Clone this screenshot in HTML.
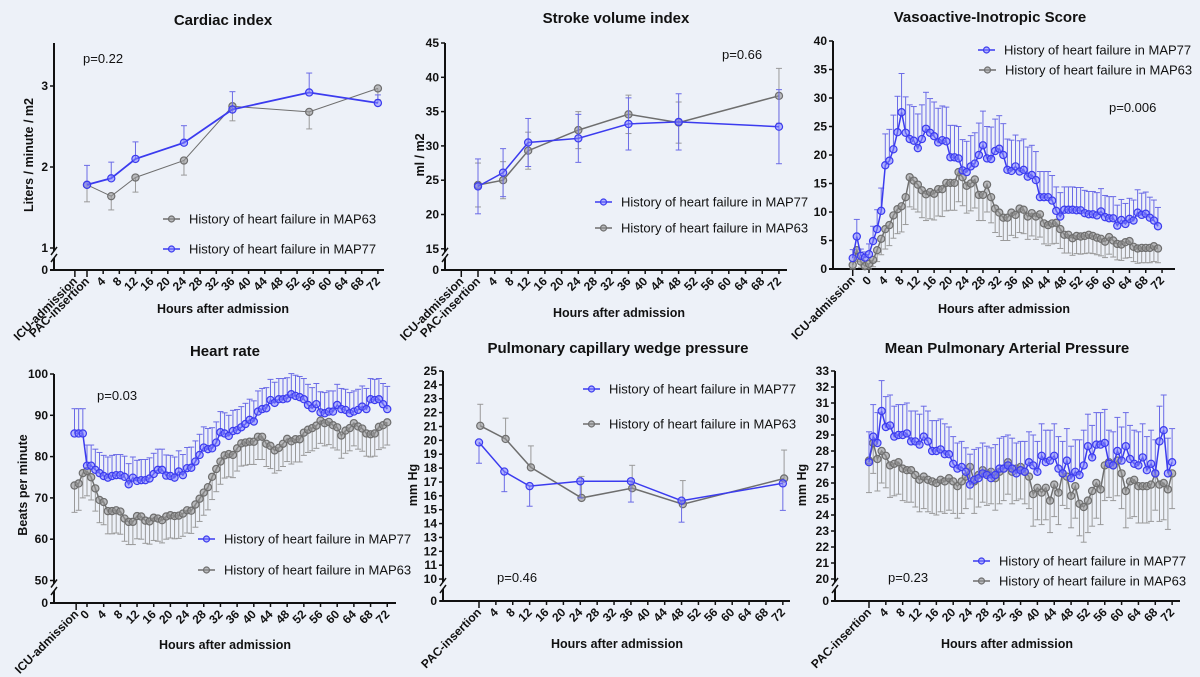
<!DOCTYPE html>
<html><head><meta charset="utf-8">
<style>
html,body{margin:0;padding:0;background:#edf1f8;}
svg{display:block;font-family:"Liberation Sans",Arial,sans-serif;}
.tl{font-size:12px;font-weight:bold;fill:#111;}
.tt{font-size:15px;font-weight:bold;fill:#111;}
.at{font-size:12.5px;font-weight:bold;fill:#111;}
.lg{font-size:13px;fill:#111;}
</style></head>
<body>
<svg id="chart" width="1200" height="677" viewBox="0 0 1200 677" xmlns="http://www.w3.org/2000/svg">
<rect width="1200" height="677" fill="#edf1f8"/>
</svg>
<script>
// ---------- Cardiac index ----------
const ciHours = [0, 6, 12, 24, 36, 55, 72];
const ciBlue = [1.78, 1.86, 2.10, 2.30, 2.71, 2.92, 2.79];
const ciBlueErr = [0.24, 0.20, 0.21, 0.21, 0.22, 0.24, 0.10];
const ciGray = [1.78, 1.64, 1.87, 2.08, 2.75, 2.68, 2.97];
const ciGrayErr = [0.21, 0.17, 0.18, 0.18, 0.18, 0.21, 0.14];
const ciYTicks = [1, 2, 3];
// ---------- Stroke volume index ----------
const sviHours = [0, 6, 12, 24, 36, 48, 72];
const sviBlue = [24.1, 26.1, 30.5, 31.1, 33.2, 33.5, 32.8];
const sviBlueErr = [4.0, 3.5, 3.5, 3.5, 3.8, 4.1, 5.4];
const sviGray = [24.3, 25.0, 29.3, 32.3, 34.6, 33.4, 37.3];
const sviGrayErr = [3.2, 2.7, 2.7, 2.7, 2.8, 3.0, 4.0];
const sviYTicks = [15, 20, 25, 30, 35, 40, 45];
// ---------- Vasoactive-Inotropic Score (hourly, from -4 h) ----------
const visStart = -4;
const visBlue = [1.9,5.7,2.3,2.0,2.6,4.9,7.0,10.2,18.2,19.0,21.0,24.0,27.5,23.9,22.8,22.5,21.2,22.8,24.6,23.9,23.3,22.2,22.6,22.4,19.6,19.6,19.4,17.3,17.0,18.0,18.5,20.0,21.7,19.4,19.3,20.7,21.1,20.0,17.4,17.2,18.0,17.1,17.4,16.2,16.5,15.6,12.6,12.6,12.6,12.0,10.2,9.2,10.4,10.4,10.4,10.3,10.3,9.8,9.6,9.6,9.4,10.1,9.1,8.9,8.9,7.6,8.6,7.9,8.8,8.5,9.9,9.5,9.7,9.0,8.5,7.5];
const visBlueErr = [1.5,3.0,1.2,1.0,1.8,2.6,3.4,4.0,5.5,5.5,6.0,6.3,6.8,6.3,6.0,6.0,6.0,6.0,6.4,6.0,6.0,6.0,6.0,6.0,5.6,5.6,5.6,5.4,5.4,5.4,5.4,5.6,6.0,5.6,5.6,5.6,5.8,5.5,5.4,5.4,5.5,5.4,5.4,5.2,5.2,5.0,4.5,4.5,4.5,4.4,4.2,4.2,4.0,4.0,4.0,4.0,4.0,4.0,4.0,4.0,4.0,4.0,3.8,3.8,3.8,3.6,3.6,3.6,3.6,3.6,4.0,3.8,3.8,3.6,3.6,3.3];
const visGray = [0.7,3.3,1.3,0.5,0.9,1.6,3.3,5.3,7.0,7.7,9.4,10.5,11.0,12.6,16.1,15.5,14.8,13.8,13.1,13.5,13.2,14.0,14.0,15.1,15.1,15.1,17.0,16.1,14.6,15.0,15.7,13.0,13.0,14.8,12.6,10.6,9.9,9.0,9.0,9.9,9.5,10.6,10.4,9.2,9.8,9.2,9.6,8.0,7.7,8.0,8.1,7.0,6.0,6.0,5.4,5.8,5.7,5.8,6.0,5.8,5.5,5.3,4.8,5.6,5.0,4.4,4.3,4.7,4.9,3.9,3.6,3.7,3.7,3.7,4.0,3.6];
const visGrayErr = [0.7,2.0,1.0,0.5,0.9,1.2,2.0,2.8,3.5,3.6,4.0,4.3,4.5,4.8,5.2,5.0,4.8,4.8,4.6,4.7,4.6,4.7,4.8,4.9,4.8,4.8,5.2,5.0,4.8,4.8,5.0,4.5,4.5,4.8,4.5,4.2,4.2,4.0,4.0,4.0,4.0,4.2,4.2,4.0,4.0,4.0,4.0,3.6,3.6,3.6,3.6,3.4,3.2,3.2,3.0,3.1,3.1,3.1,3.2,3.1,3.0,3.0,2.8,3.0,2.9,2.8,2.8,2.8,2.9,2.6,2.6,2.6,2.6,2.6,2.7,2.5];
const visYTicks = [0, 5, 10, 15, 20, 25, 30, 35, 40];
// ---------- Heart rate (hourly, from -3 h) ----------
const hrStart = -3;
const hrBlue = [85.6,85.6,85.6,77.8,77.8,76.8,76.0,75.3,74.9,75.3,75.5,75.5,75.1,73.3,74.9,74.1,74.3,74.3,74.7,75.8,76.8,76.8,75.4,75.3,74.9,76.4,75.5,77.2,77.3,78.8,80.4,82.2,81.8,82.0,83.4,85.9,85.6,85.0,86.2,86.4,87.1,87.9,88.9,88.5,90.9,91.5,91.7,93.7,93.0,93.9,93.9,94.1,95.1,94.7,94.4,93.9,92.5,91.7,92.7,90.7,90.5,90.9,90.9,92.5,91.5,91.3,90.5,90.9,91.3,92.1,91.5,93.9,93.7,93.9,92.7,91.5];
const hrBlueErr = [6,6,6,5,5,5,5,5,5,5,5,5,5,5,5,5,5,5,5,5,5,5,5,5,5,5,5,5,5,5,5,5,5,5,5,5,5,5,5,5,5,5,5,5,5,5,5,5,5,5,5,5,5,5,5,5,5,5,5,5,5,5,5,5,5,5,5,5,5,5,5,5,5,5,5,5.5];
const hrGray = [73.0,73.5,76.0,76.5,75.0,72.3,69.5,69.0,66.8,66.8,67.0,66.7,65.0,64.2,64.2,65.6,65.5,64.5,64.3,65.2,65.0,64.6,65.5,65.8,65.6,65.7,66.2,67.0,66.9,68.4,69.8,71.3,72.6,75.1,77.0,78.8,80.3,80.6,80.4,82.0,83.2,83.4,83.6,83.6,84.8,84.8,83.1,82.6,81.5,82.1,83.1,84.3,83.7,84.2,84.2,85.8,86.5,86.9,87.5,88.7,88.1,88.4,87.6,87.1,85.1,86.3,86.9,88.1,87.3,86.8,85.6,85.4,85.6,87.2,87.6,88.3];
const hrGrayErr = [6.5,6.5,6,6,5.5,5.5,5.5,5.5,5.5,5.5,5.5,5.5,5.5,5.5,5.5,5.5,5.5,5.5,5.5,5.5,5.5,5.5,5.5,5.5,5.5,5.5,5.5,5.5,5.5,5.5,5.5,5.5,5.5,5.5,5.5,5.5,5.5,5.5,5.5,5.5,5.5,5.5,5.5,5.5,5.5,5.5,5.5,5.5,5.5,5.5,5.5,5.5,5.5,5.5,5.5,5.5,5.5,5.5,5.5,5.5,5.5,5.5,5.5,5.5,5.5,5.5,5.5,5.5,5.5,5.5,5.5,5.5,5.5,5.5,5.5,5.5];
const hrYTicks = [50, 60, 70, 80, 90, 100];
// ---------- PCWP ----------
const pcwpHours = [0, 6, 12, 24, 36, 48, 72];
const pcwpGrayHours = [0.3, 6.3, 12.3, 24.3, 36.3, 48.3, 72.3];
const pcwpBlue = [19.85, 17.75, 16.7, 17.05, 17.05, 15.65, 16.9];
const pcwpBlueErr = [1.5, 1.45, 1.45, 1.2, 1.5, 1.55, 1.95];
const pcwpGray = [21.05, 20.1, 18.05, 15.85, 16.55, 15.4, 17.25];
const pcwpGrayErr = [1.55, 1.5, 1.55, 1.55, 1.65, 1.7, 2.05];
const pcwpYTicks = [10,11,12,13,14,15,16,17,18,19,20,21,22,23,24,25];
// ---------- Mean PAP (hourly, from 0 h) ----------
const mpapStart = 0;
const mpapBlue = [27.3,28.9,28.5,30.5,29.5,29.6,28.9,29.0,29.0,29.1,28.6,28.6,28.4,28.9,28.6,28.0,28.0,28.1,27.8,27.8,27.2,26.9,27.0,26.7,25.9,26.2,26.3,26.6,26.5,26.3,26.5,26.9,26.9,27.1,26.9,26.6,26.8,26.7,27.3,27.1,26.7,27.7,27.3,27.4,27.7,26.9,26.6,27.4,26.3,26.7,26.5,27.1,28.3,27.6,28.4,28.4,28.5,27.2,27.1,28.0,27.4,28.3,27.5,27.2,27.1,27.6,26.8,27.2,26.6,28.6,29.3,26.6,27.3];
const mpapBlueErr = [1.9,2.0,1.9,1.9,1.9,1.9,1.9,1.9,1.9,1.9,1.9,1.9,1.9,1.9,1.9,1.9,1.9,1.9,1.9,1.7,1.7,1.6,1.6,1.5,1.9,1.9,1.9,1.9,1.8,1.9,1.9,1.9,2.0,1.9,1.9,1.9,1.8,1.9,1.9,1.9,1.9,2.0,2.0,1.9,2.0,2.0,2.0,2.0,2.0,2.0,2.2,2.2,2.0,2.0,2.0,2.0,2.1,2.1,2.1,2.1,2.1,2.1,2.1,2.1,2.1,2.1,2.1,2.1,2.1,2.2,2.2,2.2,2.1];
const mpapGray = [27.4,28.5,27.5,28.0,27.7,27.1,27.2,27.3,26.9,26.8,26.8,26.5,26.2,26.4,26.2,26.1,26.0,26.2,26.1,26.3,26.1,25.8,26.1,26.4,27.0,26.1,26.5,26.8,26.6,26.7,26.3,26.7,26.9,27.3,26.7,26.9,27.0,26.7,26.4,25.3,25.7,25.4,25.7,24.9,25.9,25.4,26.6,26.4,25.2,25.8,24.7,24.5,24.9,25.5,26.0,25.6,27.1,27.3,27.1,27.4,26.6,25.5,26.1,26.2,25.8,25.8,25.8,25.9,26.6,25.9,26.0,25.6,26.6];
const mpapGrayErr = [2.0,1.9,2.0,2.0,2.0,2.0,2.0,2.0,2.0,2.0,2.0,2.0,2.0,2.0,2.0,2.0,2.0,2.0,2.0,2.0,2.0,2.0,2.0,2.0,2.0,2.0,2.0,2.0,2.0,2.0,2.0,2.0,2.0,2.0,2.0,2.0,2.0,2.0,2.0,2.0,2.0,2.0,2.0,2.0,2.0,2.0,2.0,2.0,2.0,2.0,2.0,2.2,2.0,2.2,2.2,2.2,2.2,2.2,2.2,2.2,2.2,2.3,2.3,2.3,2.3,2.3,2.3,2.3,2.3,2.3,2.3,2.5,2.2];
const mpapYTicks = [20,21,22,23,24,25,26,27,28,29,30,31,32,33];
const hourTicks = [4,8,12,16,20,24,28,32,36,40,44,48,52,56,60,64,68,72];
const hourTicks0 = [0,4,8,12,16,20,24,28,32,36,40,44,48,52,56,60,64,68,72];

const NS = 'http://www.w3.org/2000/svg';
const svg = document.getElementById('chart');
const BLUE = '#3b3bef', BLUEF = 'rgba(130,130,255,0.55)', BLUEE = '#6b6be6';
const GRAY = '#6e6e6e', GRAYF = 'rgba(150,150,150,0.6)', GRAYE = '#9a9a9a';

function mk(tag, attrs, parent) {
  const e = document.createElementNS(NS, tag);
  for (const k in attrs) e.setAttribute(k, attrs[k]);
  (parent || svg).appendChild(e);
  return e;
}
function txt(s, x, y, cls, anchor, parent, rot) {
  const t = mk('text', {x: x, y: y, class: cls, 'text-anchor': anchor || 'start'}, parent);
  if (rot) t.setAttribute('transform', 'rotate(' + rot + ' ' + x + ' ' + y + ')');
  t.textContent = s;
  return t;
}

function panel(cfg) {
  const g = mk('g', {});
  
  
  const xs = h => cfg.x0 + h * cfg.kx;
  const ys = v => cfg.yTopPx + (cfg.yMax - v) * cfg.ky;
  const ax = cfg.axisX;
  const t = txt(cfg.title, cfg.tx, cfg.ty, 'tt', 'middle', g);
  
  
  const ya = mk('g', {}, g);
  
  
  const yb = ys(cfg.yMin);
  const top = cfg.axisTop !== undefined ? cfg.axisTop : ys(cfg.yMax);
  if (cfg.brk) {
    mk('line', {x1: ax, y1: top, x2: ax, y2: yb + 3, stroke: '#111', 'stroke-width': 2}, ya);
    mk('line', {x1: ax - 3, y1: yb + 7, x2: ax + 3, y2: yb - 1, stroke: '#111', 'stroke-width': 1.5}, ya);
    mk('line', {x1: ax, y1: cfg.zeroPx - 12, x2: ax, y2: cfg.zeroPx, stroke: '#111', 'stroke-width': 2}, ya);
    mk('line', {x1: ax - 3, y1: cfg.zeroPx - 8, x2: ax + 3, y2: cfg.zeroPx - 16, stroke: '#111', 'stroke-width': 1.5}, ya);
    mk('line', {x1: ax - 4, y1: cfg.zeroPx, x2: ax, y2: cfg.zeroPx, stroke: '#111', 'stroke-width': 1.5}, ya);
    txt('0', ax - 6, cfg.zeroPx + 4, 'tl', 'end', ya);
  } else {
    mk('line', {x1: ax, y1: top, x2: ax, y2: cfg.zeroPx, stroke: '#111', 'stroke-width': 2}, ya);
  }
  cfg.yTicks.forEach(v => {
    const y = ys(v);
    mk('line', {x1: ax - 4, y1: y, x2: ax, y2: y, stroke: '#111', 'stroke-width': 1.5}, ya);
    txt(String(v), ax - 6, y + 4, 'tl', 'end', ya);
  });
  if (cfg.ylabel) {
    const yl = txt(cfg.ylabel, cfg.ylx, cfg.yly, 'at', 'middle', g, -90);
    
    
  }
  const xa = mk('g', {}, g);
  
  
  mk('line', {x1: cfg.xAxisFrom, y1: cfg.zeroPx, x2: cfg.xAxisTo, y2: cfg.zeroPx, stroke: '#111', 'stroke-width': 2}, xa);
  const ticks = cfg.catTicks.map(c => [c[0], c[1], true]).concat(cfg.hourTicks.map(h => [h, String(h), false]));
  ticks.forEach(tk => {
    const x = xs(tk[0]);
    mk('line', {x1: x, y1: cfg.zeroPx, x2: x, y2: cfg.zeroPx + (tk[2] ? 7 : 4), stroke: '#111', 'stroke-width': 1.5}, xa);
    txt(tk[1], x + 3, cfg.zeroPx + 12, 'tl', 'end', xa, -45);
  });
  const xl = txt('Hours after admission', cfg.xlx, cfg.xly, 'at', 'middle', g);
  
  
  const pv = txt(cfg.p, cfg.px, cfg.py, 'lg', 'start', g);
  
  
  cfg.series.forEach(s => {
    const sg = mk('g', {}, g);
    
    
    const pts = s.vals.map((v, i) => [xs(s.hours[i]), ys(v), v, s.err[i] !== undefined ? s.err[i] : s.err[s.err.length - 1]]);
    pts.forEach(p => {
      const e = p[3];
      const up = s.dir === 'up' || s.dir === 'both';
      const dn = s.dir === 'down' || s.dir === 'both';
      const y1 = up ? ys(p[2] + e) : p[1];
      const y2 = dn ? ys(p[2] - e) : p[1];
      mk('line', {x1: p[0], y1: y1, x2: p[0], y2: y2, stroke: s.ecol, 'stroke-width': 1}, sg);
      if (up) mk('line', {x1: p[0] - 3, y1: y1, x2: p[0] + 3, y2: y1, stroke: s.ecol, 'stroke-width': 1}, sg);
      if (dn) mk('line', {x1: p[0] - 3, y1: y2, x2: p[0] + 3, y2: y2, stroke: s.ecol, 'stroke-width': 1}, sg);
    });
    mk('polyline', {points: pts.map(p => p[0].toFixed(1) + ',' + p[1].toFixed(1)).join(' '), fill: 'none', stroke: s.col, 'stroke-width': s.lw || 1.5}, sg);
    pts.forEach(p => {
      const c = mk('circle', {cx: p[0], cy: p[1], r: 3.6, fill: s.fill, stroke: s.col, 'stroke-width': 1.2}, sg);
      
      
    });
  });
  cfg.legend.forEach(l => {
    const lg = mk('g', {}, g);
    
    
    mk('line', {x1: l.x, y1: l.y, x2: l.x + 17, y2: l.y, stroke: l.col, 'stroke-width': 1.5}, lg);
    mk('circle', {cx: l.x + 8.5, cy: l.y, r: 3, fill: l.fill, stroke: l.col, 'stroke-width': 1.2}, lg);
    txt(l.text, l.x + 26, l.y + 4.5, 'lg', 'start', lg);
  });
}

function seq(start, n) { const a = []; for (let i = 0; i < n; i++) a.push(start + i); return a; }
const L77 = 'History of heart failure in MAP77', L63 = 'History of heart failure in MAP63';

panel({name: 'cardiac-index-panel', title: 'Cardiac index', tx: 223, ty: 25,
  axisX: 54, axisTop: 43, yTopPx: 86, yMax: 3, ky: 81, yMin: 1, yTicks: ciYTicks, brk: true, zeroPx: 270,
  x0: 87, kx: 4.04, xAxisFrom: 50, xAxisTo: 384,
  catTicks: [[-3, 'ICU-admission'], [0, 'PAC-insertion']], hourTicks: hourTicks,
  ylabel: 'Liters / minute / m2', ylx: 33, yly: 155, xlx: 223, xly: 313, p: 'p=0.22', px: 83, py: 63,
  series: [
    {name: 'series-map63', hours: ciHours, vals: ciGray, err: ciGrayErr, dir: 'down', col: GRAY, fill: GRAYF, ecol: GRAYE, lw: 1},
    {name: 'series-map77', hours: ciHours, vals: ciBlue, err: ciBlueErr, dir: 'up', col: BLUE, fill: BLUEF, ecol: BLUEE, lw: 1.8}],
  legend: [{x: 163, y: 219, col: GRAY, fill: GRAYF, text: L63}, {x: 163, y: 249, col: BLUE, fill: BLUEF, text: L77}]});

panel({name: 'stroke-volume-panel', title: 'Stroke volume index', tx: 616, ty: 23,
  axisX: 445, yTopPx: 43, yMax: 45, ky: 6.86, yMin: 15, yTicks: sviYTicks, brk: true, zeroPx: 270,
  x0: 478, kx: 4.18, xAxisFrom: 441, xAxisTo: 787,
  catTicks: [[-4, 'ICU-admission'], [0, 'PAC-insertion']], hourTicks: hourTicks,
  ylabel: 'ml / m2', ylx: 424, yly: 155, xlx: 619, xly: 317, p: 'p=0.66', px: 722, py: 59,
  series: [
    {name: 'series-map63', hours: sviHours, vals: sviGray, err: sviGrayErr, dir: 'both', col: GRAY, fill: GRAYF, ecol: GRAYE, lw: 1.5},
    {name: 'series-map77', hours: sviHours, vals: sviBlue, err: sviBlueErr, dir: 'both', col: BLUE, fill: BLUEF, ecol: BLUEE, lw: 1.5}],
  legend: [{x: 595, y: 202, col: BLUE, fill: BLUEF, text: L77}, {x: 595, y: 228, col: GRAY, fill: GRAYF, text: L63}]});

panel({name: 'vis-panel', title: 'Vasoactive-Inotropic Score', tx: 990, ty: 22,
  axisX: 833, yTopPx: 41, yMax: 40, ky: 5.7, yMin: 0, yTicks: visYTicks, brk: false, zeroPx: 269,
  x0: 869, kx: 4.07, xAxisFrom: 829, xAxisTo: 1175,
  catTicks: [[-4, 'ICU-admission']], hourTicks: hourTicks0,
  ylabel: null, xlx: 1004, xly: 313, p: 'p=0.006', px: 1109, py: 112,
  series: [
    {name: 'series-map63', hours: seq(visStart, visGray.length), vals: visGray, err: visGrayErr, dir: 'down', col: GRAY, fill: GRAYF, ecol: GRAYE, lw: 1.5},
    {name: 'series-map77', hours: seq(visStart, visBlue.length), vals: visBlue, err: visBlueErr, dir: 'up', col: BLUE, fill: BLUEF, ecol: BLUEE, lw: 1.5}],
  legend: [{x: 978, y: 50, col: BLUE, fill: BLUEF, text: L77}, {x: 979, y: 70, col: GRAY, fill: GRAYF, text: L63}]});

panel({name: 'heart-rate-panel', title: 'Heart rate', tx: 225, ty: 356,
  axisX: 54, yTopPx: 374, yMax: 100, ky: 4.13, yMin: 50, yTicks: hrYTicks, brk: true, zeroPx: 603,
  x0: 87, kx: 4.17, xAxisFrom: 50, xAxisTo: 396,
  catTicks: [[-2.6, 'ICU-admission']], hourTicks: hourTicks0,
  ylabel: 'Beats per minute', ylx: 27, yly: 485, xlx: 225, xly: 649, p: 'p=0.03', px: 97, py: 400,
  series: [
    {name: 'series-map63', hours: seq(hrStart, hrGray.length), vals: hrGray, err: hrGrayErr, dir: 'down', col: GRAY, fill: GRAYF, ecol: GRAYE, lw: 1.5},
    {name: 'series-map77', hours: seq(hrStart, hrBlue.length), vals: hrBlue, err: hrBlueErr, dir: 'up', col: BLUE, fill: BLUEF, ecol: BLUEE, lw: 1.5}],
  legend: [{x: 198, y: 539, col: BLUE, fill: BLUEF, text: L77}, {x: 198, y: 570, col: GRAY, fill: GRAYF, text: L63}]});

panel({name: 'pcwp-panel', title: 'Pulmonary capillary wedge pressure', tx: 618, ty: 353,
  axisX: 443, yTopPx: 371, yMax: 25, ky: 13.87, yMin: 10, yTicks: pcwpYTicks, brk: true, zeroPx: 601,
  x0: 479, kx: 4.22, xAxisFrom: 440, xAxisTo: 790,
  catTicks: [[0, 'PAC-insertion']], hourTicks: hourTicks,
  ylabel: 'mm Hg', ylx: 417, yly: 485, xlx: 617, xly: 648, p: 'p=0.46', px: 497, py: 582,
  series: [
    {name: 'series-map63', hours: pcwpGrayHours, vals: pcwpGray, err: pcwpGrayErr, dir: 'up', col: GRAY, fill: GRAYF, ecol: GRAYE, lw: 1.5},
    {name: 'series-map77', hours: pcwpHours, vals: pcwpBlue, err: pcwpBlueErr, dir: 'down', col: BLUE, fill: BLUEF, ecol: BLUEE, lw: 1.5}],
  legend: [{x: 583, y: 389, col: BLUE, fill: BLUEF, text: L77}, {x: 583, y: 424, col: GRAY, fill: GRAYF, text: L63}]});

panel({name: 'mpap-panel', title: 'Mean Pulmonary Arterial Pressure', tx: 1007, ty: 353,
  axisX: 835, yTopPx: 371, yMax: 33, ky: 16, yMin: 20, yTicks: mpapYTicks, brk: true, zeroPx: 601,
  x0: 869, kx: 4.21, xAxisFrom: 831, xAxisTo: 1180,
  catTicks: [[0, 'PAC-insertion']], hourTicks: hourTicks,
  ylabel: 'mm Hg', ylx: 806, yly: 485, xlx: 1007, xly: 648, p: 'p=0.23', px: 888, py: 582,
  series: [
    {name: 'series-map63', hours: seq(mpapStart, mpapGray.length), vals: mpapGray, err: mpapGrayErr, dir: 'down', col: GRAY, fill: GRAYF, ecol: GRAYE, lw: 1.5},
    {name: 'series-map77', hours: seq(mpapStart, mpapBlue.length), vals: mpapBlue, err: mpapBlueErr, dir: 'up', col: BLUE, fill: BLUEF, ecol: BLUEE, lw: 1.5}],
  legend: [{x: 973, y: 561, col: BLUE, fill: BLUEF, text: L77}, {x: 973, y: 581, col: GRAY, fill: GRAYF, text: L63}]});
</script>
</body></html>
